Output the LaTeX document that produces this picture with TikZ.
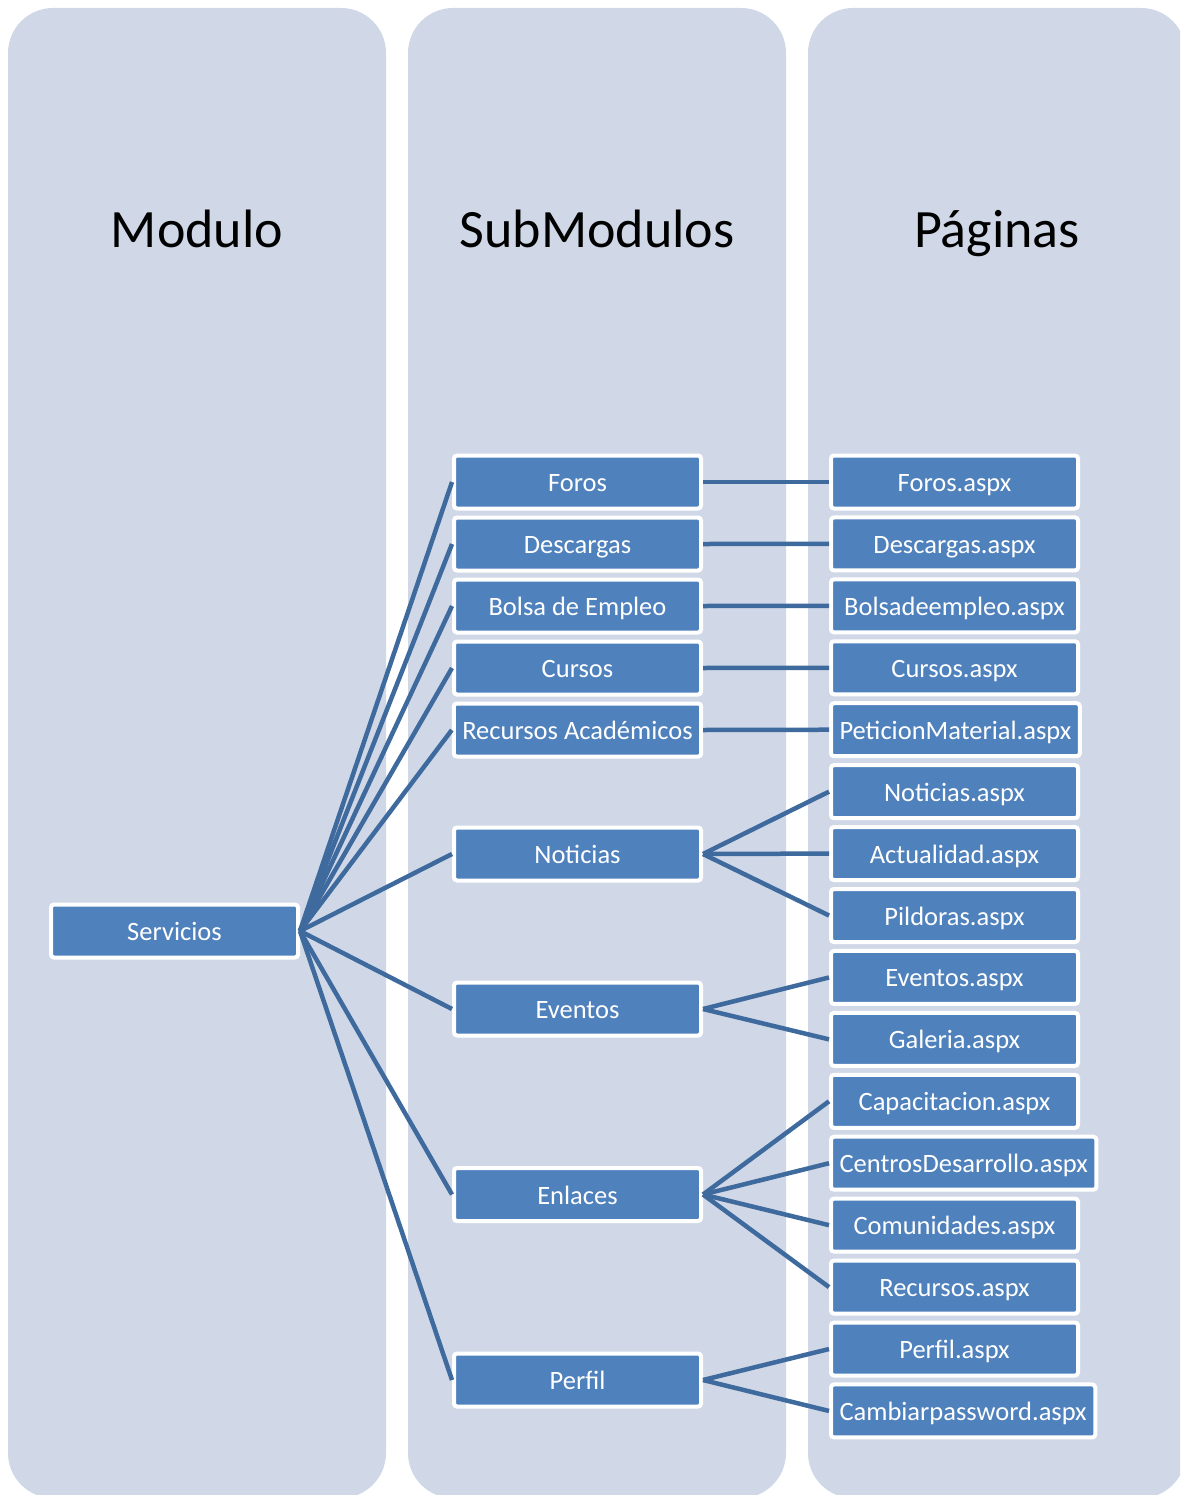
\documentclass[tikz,border=0pt]{standalone}
\usepackage{fontspec}
\setmainfont{Carlito}
\definecolor{panelfill}{HTML}{D0D8E8}
\definecolor{boxfill}{HTML}{4F81BD}
\definecolor{linkline}{HTML}{3F6A9D}

\begin{document}
\begin{tikzpicture}[x=1pt, y=-1pt,
  panel/.style = {fill=panelfill, rounded corners=45pt},
  title/.style = {anchor=base, font=\fontsize{54}{60}\selectfont},
  item/.style = {shape=rectangle, rounded corners=3pt,
    draw=white, line width=4pt, fill=boxfill, text=white,
    minimum width=247pt, minimum height=53pt, inner xsep=8.5pt,
    text height=24pt, text depth=5pt,
    font=\fontsize{26.5}{30}\selectfont},
  link/.style = {draw=linkline, line width=4.5pt}]
  \useasboundingbox (0,0) rectangle (1180,1495);
  \clip (0,0) rectangle (1180,1495);
  % columns
  \foreach \x in {8,408,808}
    \fill[panel] (\x,8) rectangle ++(378,1490);
  \node[title] (tmod) at (197,248) {Modulo};
  \node[title] (tsub) at (597,248) {SubModulos};
  \node[title] (tpag) at (997,248) {Páginas};
  % boxes
  \node[item] (serv) at (174.5,931) {Servicios};
  \foreach \name/\yy [count=\i] in {Foros/482, Descargas/544,
      Bolsa de Empleo/606, Cursos/668, Recursos Académicos/730,
      Noticias/854, Eventos/1009, Enlaces/1194.5, Perfil/1380}
    \node[item] (s\i) at (577.5,\yy) {\name};
  \foreach \name [count=\i from 0] in {Foros.aspx, Descargas.aspx,
      Bolsadeempleo.aspx, Cursos.aspx, PeticionMaterial.aspx,
      Noticias.aspx, Actualidad.aspx, Pildoras.aspx, Eventos.aspx,
      Galeria.aspx, Capacitacion.aspx, CentrosDesarrollo.aspx,
      Comunidades.aspx, Recursos.aspx, Perfil.aspx,
      Cambiarpassword.aspx}
    \node[item, anchor=west] (p\i) at (829,{482+61.93*\i}) {\name};
  % links
  \foreach \i in {1,...,9}
    \draw[link] (serv.east) -- (s\i.west);
  \foreach \s/\p in {1/0, 2/1, 3/2, 4/3, 5/4, 6/5, 6/6, 6/7, 7/8, 7/9,
      8/10, 8/11, 8/12, 8/13, 9/14, 9/15}
    \draw[link] (s\s.east) -- (p\p.west);
\end{tikzpicture}
\end{document}
